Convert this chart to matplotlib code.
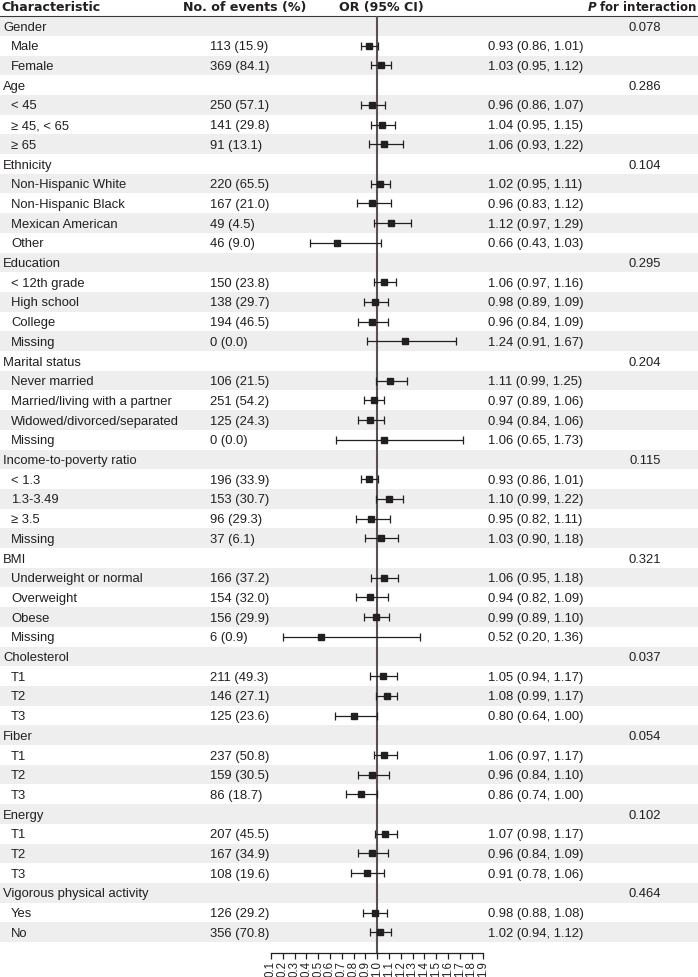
import numpy as np
import matplotlib
matplotlib.use("Agg")
import matplotlib.pyplot as plt
import matplotlib.transforms as mtransforms

plt.rcParams['font.family'] = ['Liberation Sans', 'DejaVu Sans']

# ---------------- data ----------------
labels = ["Gender", "Male", "Female",
          "Age", "< 45", "\u2265 45, < 65", "\u2265 65",
          "Ethnicity", "Non-Hispanic White", "Non-Hispanic Black", "Mexican American", "Other",
          "Education", "< 12th grade", "High school", "College", "Missing",
          "Marital status", "Never married", "Married/living with a partner",
          "Widowed/divorced/separated", "Missing",
          "Income-to-poverty ratio", "< 1.3", "1.3-3.49", "\u2265 3.5", "Missing",
          "BMI", "Underweight or normal", "Overweight", "Obese", "Missing",
          "Cholesterol", "T1", "T2", "T3",
          "Fiber", "T1", "T2", "T3",
          "Energy", "T1", "T2", "T3",
          "Vigorous physical activity", "Yes", "No"]
is_group = [1, 0, 0,
            1, 0, 0, 0,
            1, 0, 0, 0, 0,
            1, 0, 0, 0, 0,
            1, 0, 0, 0, 0,
            1, 0, 0, 0, 0,
            1, 0, 0, 0, 0,
            1, 0, 0, 0,
            1, 0, 0, 0,
            1, 0, 0, 0,
            1, 0, 0]
n = None
events = [n, 113, 369,
          n, 250, 141, 91,
          n, 220, 167, 49, 46,
          n, 150, 138, 194, 0,
          n, 106, 251, 125, 0,
          n, 196, 153, 96, 37,
          n, 166, 154, 156, 6,
          n, 211, 146, 125,
          n, 237, 159, 86,
          n, 207, 167, 108,
          n, 126, 356]
pct = [n, 15.9, 84.1,
       n, 57.1, 29.8, 13.1,
       n, 65.5, 21.0, 4.5, 9.0,
       n, 23.8, 29.7, 46.5, 0.0,
       n, 21.5, 54.2, 24.3, 0.0,
       n, 33.9, 30.7, 29.3, 6.1,
       n, 37.2, 32.0, 29.9, 0.9,
       n, 49.3, 27.1, 23.6,
       n, 50.8, 30.5, 18.7,
       n, 45.5, 34.9, 19.6,
       n, 29.2, 70.8]
or_est = [n, 0.93, 1.03,
          n, 0.96, 1.04, 1.06,
          n, 1.02, 0.96, 1.12, 0.66,
          n, 1.06, 0.98, 0.96, 1.24,
          n, 1.11, 0.97, 0.94, 1.06,
          n, 0.93, 1.10, 0.95, 1.03,
          n, 1.06, 0.94, 0.99, 0.52,
          n, 1.05, 1.08, 0.80,
          n, 1.06, 0.96, 0.86,
          n, 1.07, 0.96, 0.91,
          n, 0.98, 1.02]
ci_low = [n, 0.86, 0.95,
          n, 0.86, 0.95, 0.93,
          n, 0.95, 0.83, 0.97, 0.43,
          n, 0.97, 0.89, 0.84, 0.91,
          n, 0.99, 0.89, 0.84, 0.65,
          n, 0.86, 0.99, 0.82, 0.90,
          n, 0.95, 0.82, 0.89, 0.20,
          n, 0.94, 0.99, 0.64,
          n, 0.97, 0.84, 0.74,
          n, 0.98, 0.84, 0.78,
          n, 0.88, 0.94]
ci_high = [n, 1.01, 1.12,
           n, 1.07, 1.15, 1.22,
           n, 1.11, 1.12, 1.29, 1.03,
           n, 1.16, 1.09, 1.09, 1.67,
           n, 1.25, 1.06, 1.06, 1.73,
           n, 1.01, 1.22, 1.11, 1.18,
           n, 1.18, 1.09, 1.10, 1.36,
           n, 1.17, 1.17, 1.00,
           n, 1.17, 1.10, 1.00,
           n, 1.17, 1.09, 1.06,
           n, 1.08, 1.12]
p_int = ["0.078", "", "",
         "0.286", "", "", "",
         "0.104", "", "", "", "",
         "0.295", "", "", "", "",
         "0.204", "", "", "", "",
         "0.115", "", "", "", "",
         "0.321", "", "", "", "",
         "0.037", "", "", "",
         "0.054", "", "", "",
         "0.102", "", "", "",
         "0.464", "", ""]
x_ticks = [0.1, 0.2, 0.3, 0.4, 0.5, 0.6, 0.7, 0.8, 0.9, 1.0,
           1.1, 1.2, 1.3, 1.4, 1.5, 1.6, 1.7, 1.8, 1.9]
headers = ["Characteristic", "No. of events (%)", "OR (95% CI)"]

# ---------------- layout ----------------
W, H = 698, 977
TXT = '#231f20'
fig = plt.figure(figsize=(W / 100, H / 100), dpi=100)
ax_bottom_px = 953
ax = fig.add_axes([0, (H - ax_bottom_px) / H, 1, ax_bottom_px / H])

row0_px, row_h = 26.0, 19.7
y_top = -row0_px / row_h
y_bot = (ax_bottom_px - row0_px) / row_h
ax.set_ylim(y_bot, y_top)

x0_px, scale = 271.0, 212.3 / 1.8
ax.set_xlim(0.1 - x0_px / scale, 0.1 + (W - x0_px) / scale)

nrows = len(labels)
for i in range(nrows):
    if i % 2 == 0:
        ax.axhspan(i - 0.5, i + 0.5, color='#eeeeee', lw=0, zorder=0)

ax.axhline(-0.5, color='#3a3a3a', lw=0.8, zorder=1)
ax.vlines(1.0, -0.5, y_bot, color='#5a5050', lw=1.5, zorder=2)

tr = mtransforms.blended_transform_factory(fig.transFigure, ax.transData)
def fx(px):
    return px / W

base = 0.235
fs = 9.4
for i in range(nrows):
    y = i + base
    if is_group[i]:
        ax.text(fx(3), y, labels[i], transform=tr, fontsize=fs, color=TXT, va='baseline')
        ax.text(fx(645), y, p_int[i], transform=tr, fontsize=fs, color=TXT,
                va='baseline', ha='center')
    else:
        ax.text(fx(11), y, labels[i], transform=tr, fontsize=fs, color=TXT, va='baseline')
        ax.text(fx(210), y, f"{events[i]} ({pct[i]:.1f})", transform=tr,
                fontsize=fs, color=TXT, va='baseline')
        ax.text(fx(488), y, f"{or_est[i]:.2f} ({ci_low[i]:.2f}, {ci_high[i]:.2f})",
                transform=tr, fontsize=fs, color=TXT, va='baseline')

# forest marks
idx = [i for i in range(nrows) if not is_group[i]]
est = np.array([or_est[i] for i in idx])
lo = np.array([ci_low[i] for i in idx])
hi = np.array([ci_high[i] for i in idx])
ax.errorbar(est, idx, xerr=[est - lo, hi - est], fmt='s', color=TXT,
            ms=4.4, elinewidth=0.9, capsize=2.6, capthick=0.9, zorder=3)

# headers
hy = (11 - row0_px) / row_h
hfs = 9.1
ax.text(fx(1), hy, headers[0], transform=tr, fontsize=hfs, fontweight='bold',
        family='DejaVu Sans', color=TXT, va='baseline')
ax.text(fx(183), hy, headers[1], transform=tr, fontsize=hfs, fontweight='bold',
        family='DejaVu Sans', color=TXT, va='baseline')
ax.text(fx(339), hy, headers[2], transform=tr, fontsize=hfs, fontweight='bold',
        family='DejaVu Sans', color=TXT, va='baseline')
ax.text(fx(697), hy, r"$\bfit{P}$ for interaction", transform=tr, fontsize=8.5,
        fontweight='bold', family='DejaVu Sans', color=TXT, va='baseline', ha='right')

# axis
for s in ['top', 'left', 'right']:
    ax.spines[s].set_visible(False)
ax.spines['bottom'].set_bounds(0.1, 1.9)
ax.spines['bottom'].set_color(TXT)
ax.spines['bottom'].set_linewidth(0.9)
ax.set_yticks([])
ax.set_xticks(x_ticks)
ax.set_xticklabels([f"{t:.1f}" for t in x_ticks], rotation=90, fontsize=8.3, color=TXT)
ax.tick_params(axis='x', direction='out', length=4, width=0.9, color=TXT, pad=2)
ax.patch.set_alpha(0)

fig.savefig("out.png", dpi=100)
